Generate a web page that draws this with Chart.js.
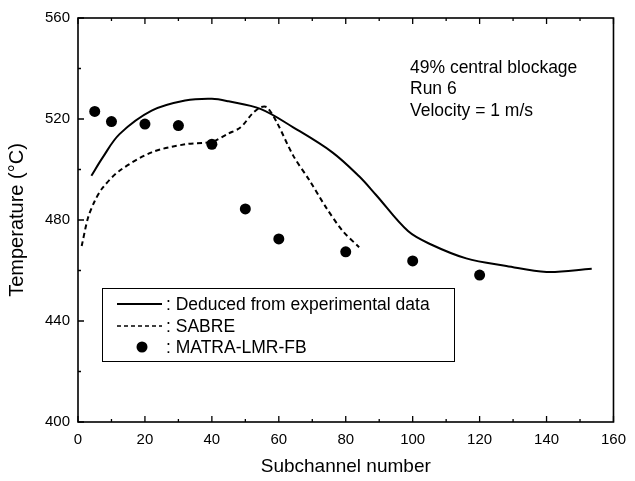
<!DOCTYPE html>
<html>
<head>
<meta charset="utf-8">
<script src="https://cdn.jsdelivr.net/npm/chart.js@4.4.1/dist/chart.umd.min.js"></script>
<style>
  html, body { margin: 0; padding: 0; background: #fff; }
  #wrap { width: 635px; height: 481px; }
</style>
</head>
<body>
<div id="wrap"><canvas id="chart" width="635" height="481"></canvas></div>
<script>
// 実験データから推定した温度分布（実線）
const deducedX = [4, 7.4, 12.4, 22, 32, 40, 45, 54.5, 64.3, 76, 84, 89, 98.6, 105.5, 116, 128, 140, 153.5];
const deducedY = [497.5, 504.8, 514, 523.3, 527.3, 528, 527, 524, 516.7, 506.8, 497.3, 490, 475.6, 470.3, 464.8, 461.8, 459.4, 460.7];

// SABRE の計算結果（破線）
const sabreX = [1.1, 3, 5, 7.4, 12.4, 22, 32, 40, 44.7, 48.6, 52, 54.5, 56.5, 59.4, 64.3, 69.2, 74.1, 79, 84];
const sabreY = [469.7, 480.9, 487.5, 492.8, 499.5, 506.8, 510, 511, 514.1, 516.7, 522, 524.6, 524.6, 518.7, 505.5, 495.6, 485, 475.8, 469.2];

// MATRA-LMR-FB の計算結果（黒丸）
const matraX = [5, 10, 20, 30, 40, 50, 60, 80, 100, 120];
const matraY = [523, 519, 518, 517.4, 510, 484.4, 472.5, 467.4, 463.8, 458.2];

const xTicks = [0, 20, 40, 60, 80, 100, 120, 140, 160];
const yTicks = [400, 440, 480, 520, 560];

const seriesLabels = [': Deduced from experimental data', ': SABRE', ': MATRA-LMR-FB'];
const noteLines = ['49% central blockage', 'Run 6', 'Velocity = 1 m/s'];

const FONT = '"Liberation Sans", Arial, Helvetica, sans-serif';

function toPoints(xs, ys) {
    return xs.map((x, i) => ({ x: x, y: ys[i] }));
}

// 枠線と内向きの目盛り
const framePlugin = {
    id: 'frame',
    afterDraw(chart) {
        const ctx = chart.ctx;
        const a = chart.chartArea;
        const xs = chart.scales.x;
        const ys = chart.scales.y;
        ctx.save();
        ctx.strokeStyle = '#000';
        ctx.lineWidth = 1.6;
        ctx.strokeRect(a.left, a.top, a.right - a.left, a.bottom - a.top);

        ctx.lineWidth = 1.3;
        ctx.beginPath();
        for (let v = xs.min; v <= xs.max; v += 10) {
            const px = xs.getPixelForValue(v);
            const len = (v % 20 === 0) ? 6 : 3;
            ctx.moveTo(px, a.bottom);
            ctx.lineTo(px, a.bottom - len);
            ctx.moveTo(px, a.top);
            ctx.lineTo(px, a.top + len);
        }
        for (let v = ys.min; v <= ys.max; v += 20) {
            const py = ys.getPixelForValue(v);
            const len = (v % 40 === 0) ? 6 : 3;
            ctx.moveTo(a.left, py);
            ctx.lineTo(a.left + len, py);
        }
        ctx.stroke();
        ctx.restore();
    }
};

// 凡例ボックスと注記
const legendBoxPlugin = {
    id: 'legendBox',
    afterDraw(chart) {
        const ctx = chart.ctx;
        const sets = chart.data.datasets;
        ctx.save();
        ctx.strokeStyle = '#000';
        ctx.lineWidth = 1;
        ctx.fillStyle = '#fff';
        ctx.fillRect(102, 288, 353, 74);
        ctx.strokeRect(102.5, 288.5, 352, 73);

        const rows = [304, 326, 347];
        ctx.font = '17.5px ' + FONT;
        ctx.textBaseline = 'middle';
        ctx.fillStyle = '#000';

        // 実線
        ctx.lineWidth = 2;
        ctx.beginPath();
        ctx.moveTo(117, rows[0]);
        ctx.lineTo(162, rows[0]);
        ctx.stroke();
        // 破線
        ctx.setLineDash([4, 3]);
        ctx.lineWidth = 1.6;
        ctx.beginPath();
        ctx.moveTo(117, rows[1]);
        ctx.lineTo(162, rows[1]);
        ctx.stroke();
        ctx.setLineDash([]);
        // 黒丸
        ctx.beginPath();
        ctx.arc(142, rows[2], 5.5, 0, Math.PI * 2);
        ctx.fill();

        sets.forEach((ds, i) => {
            ctx.fillText(ds.label, 166, rows[i] + 1);
        });

        noteLines.forEach((t, i) => {
            ctx.fillText(t, 410, 68 + i * 21.5);
        });
        ctx.restore();
    }
};

new Chart(document.getElementById('chart'), {
    type: 'scatter',
    data: {
        datasets: [
            {
                label: seriesLabels[0],
                data: toPoints(deducedX, deducedY),
                showLine: true,
                borderColor: '#000',
                borderWidth: 2,
                pointRadius: 0,
                tension: 0.35
            },
            {
                label: seriesLabels[1],
                data: toPoints(sabreX, sabreY),
                showLine: true,
                borderColor: '#000',
                borderWidth: 2,
                borderDash: [5, 3.5],
                pointRadius: 0,
                tension: 0.3
            },
            {
                label: seriesLabels[2],
                data: toPoints(matraX, matraY),
                showLine: false,
                backgroundColor: '#000',
                borderColor: '#000',
                pointRadius: 5.5,
                pointBorderWidth: 0
            }
        ]
    },
    plugins: [framePlugin, legendBoxPlugin],
    options: {
        responsive: false,
        animation: false,
        layout: { padding: { left: 0, right: 13, top: 18, bottom: 3 } },
        plugins: {
            legend: { display: false },
            tooltip: { enabled: false }
        },
        scales: {
            x: {
                type: 'linear',
                min: 0,
                max: 160,
                afterBuildTicks: (s) => { s.ticks = xTicks.map(v => ({ value: v })); },
                afterFit: (s) => { s.height = 56; },
                grid: { display: false, drawTicks: false },
                border: { display: false },
                ticks: { color: '#000', font: { family: FONT, size: 15 }, padding: 9, maxRotation: 0 },
                title: { display: true, text: 'Subchannel number', color: '#000', font: { family: FONT, size: 19 }, padding: { bottom: 0 } }
            },
            y: {
                type: 'linear',
                min: 400,
                max: 560,
                afterBuildTicks: (s) => { s.ticks = yTicks.map(v => ({ value: v })); },
                afterFit: (s) => { s.width = 78; },
                grid: { display: false, drawTicks: false },
                border: { display: false },
                ticks: { color: '#000', font: { family: FONT, size: 15 }, padding: 8 },
                title: { display: true, text: 'Temperature (°C)', color: '#000', font: { family: FONT, size: 20 }, padding: { top: 5 } }
            }
        }
    }
});
</script>
</body>
</html>
